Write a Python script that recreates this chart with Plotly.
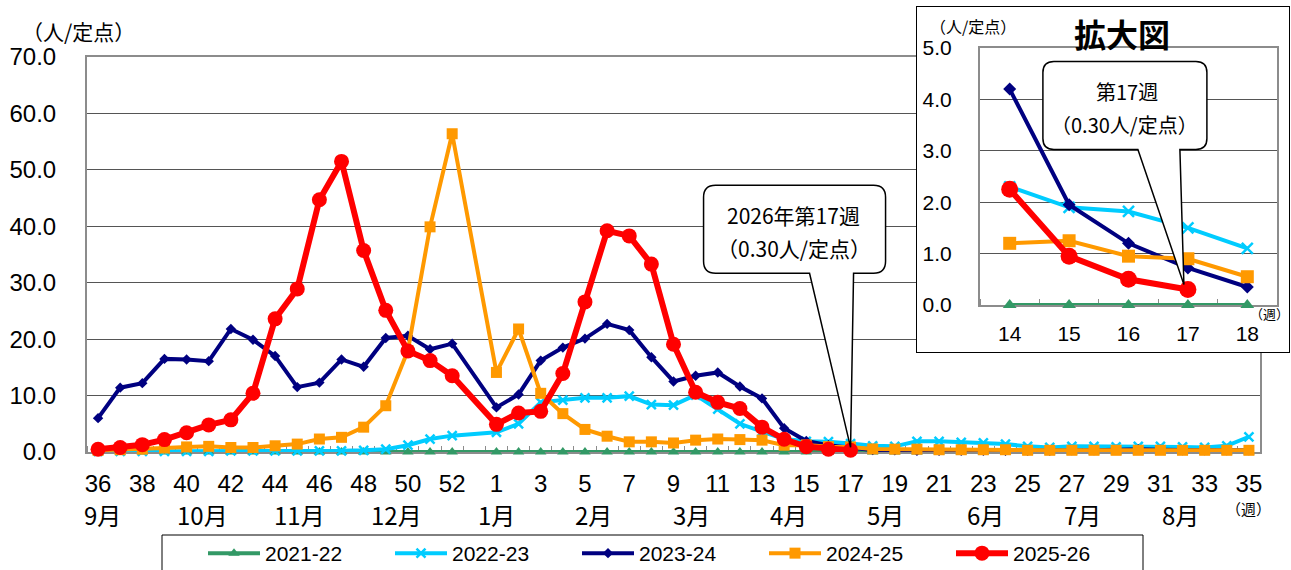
import plotly.graph_objects as go

W, H = 1291, 570

# ---------------- data ----------------
weeks = ["36", "37", "38", "39", "40", "41", "42", "43", "44", "45", "46", "47", "48", "49", "50", "51", "52", "53",
         "1", "2", "3", "4", "5", "6", "7", "8", "9", "10", "11", "12", "13", "14", "15", "16", "17", "18",
         "19", "20", "21", "22", "23", "24", "25", "26", "27", "28", "29", "30", "31", "32", "33", "34", "35"]
tick_weeks = ["36", "38", "40", "42", "44", "46", "48", "50", "52", "1", "3", "5", "7", "9", "11", "13", "15", "17",
              "19", "21", "23", "25", "27", "29", "31", "33", "35"]
months = ["9月", "10月", "11月", "12月", "1月", "2月", "3月", "4月", "5月", "6月", "7月", "8月"]

names = ["2021-22", "2022-23", "2023-24", "2024-25", "2025-26"]

s2122 = [0.0, 0.0, 0.0, 0.0, 0.0, 0.0, 0.0, 0.0, 0.0, 0.0, 0.0, 0.0, 0.0, 0.0, 0.0, 0.0, 0.0, None,
         0.0, 0.0, 0.0, 0.0, 0.0, 0.0, 0.0, 0.0, 0.0, 0.0, 0.0, 0.0, 0.0, 0.0, 0.0, 0.0, 0.0, 0.0,
         0.0, 0.0, 0.0, 0.0, 0.0, 0.0, 0.0, 0.0, 0.0, 0.0, 0.0, 0.0, 0.0, 0.0, 0.0, 0.0, 0.0]
s2223 = [0.1, 0.1, 0.1, 0.1, 0.1, 0.1, 0.2, 0.2, 0.2, 0.2, 0.2, 0.2, 0.3, 0.5, 1.2, 2.3, 2.9, None,
         3.5, 5.0, 8.8, 9.2, 9.6, 9.6, 9.9, 8.4, 8.3, 10.1, 7.6, 5.0, 3.6, 2.3, 1.9, 1.82, 1.5, 1.1,
         1.0, 1.9, 1.9, 1.7, 1.6, 1.4, 1.0, 0.8, 1.0, 1.0, 0.9, 1.0, 1.0, 0.9, 0.8, 1.1, 2.7]
s2324 = [6.0, 11.4, 12.2, 16.5, 16.4, 16.1, 21.8, 19.9, 17.0, 11.5, 12.3, 16.4, 15.1, 20.2, 20.6, 18.2, 19.2, None,
         7.9, 10.2, 16.2, 18.5, 20.1, 22.7, 21.6, 16.8, 12.5, 13.5, 14.1, 11.6, 9.5, 4.2, 1.95, 1.2, 0.72, 0.35,
         0.3, 0.2, 0.2, 0.2, 0.2, 0.2, 0.2, 0.2, 0.3, 0.3, 0.4, 0.5, 0.4, 0.3, 0.3, 0.3, 0.3]
s2425 = [0.3, 0.4, 0.5, 0.7, 0.9, 1.0, 0.8, 0.8, 1.1, 1.4, 2.3, 2.6, 4.4, 8.2, 18.0, 39.9, 56.4, None,
         14.1, 21.8, 10.4, 6.8, 4.0, 2.8, 1.8, 1.8, 1.6, 2.1, 2.3, 2.2, 2.1, 1.2, 1.25, 0.95, 0.9, 0.55,
         0.5, 0.5, 0.4, 0.4, 0.4, 0.4, 0.3, 0.3, 0.3, 0.3, 0.3, 0.3, 0.3, 0.3, 0.3, 0.3, 0.3]
s2526 = [0.5, 0.8, 1.3, 2.2, 3.4, 4.8, 5.7, 10.4, 23.6, 28.9, 44.7, 51.5, 35.7, 25.1, 17.9, 16.2, 13.5, None,
         4.9, 6.9, 7.2, 13.9, 26.6, 39.2, 38.3, 33.3, 19.1, 10.6, 8.8, 7.7, 4.4, 2.25, 0.95, 0.5, 0.30, None,
         None, None, None, None, None, None, None, None, None, None, None, None, None, None, None, None, None]

inset_weeks = ["14", "15", "16", "17", "18"]
latest_week = "17"

# ---------------- styles ----------------
series = [s2122, s2223, s2324, s2425, s2526]
colors = ["#339966", "#00ccff", "#000080", "#ff9900", "#ff0000"]
symbols = ["triangle-up", "x-thin", "diamond", "square", "circle"]
msizes = [10, 9, 8, 11, 15]
lwidths = [4, 4, 4, 4, 6]
inset_msizes = [12, 11, 10, 13, 17]

month_pos = [0.2, 4.7, 9.1, 13.5, 18.0, 22.4, 26.8, 31.2, 35.6, 40.1, 44.5, 48.9]

JP = "Noto Sans CJK JP"
AR = "Liberation Sans, Arial"

x_idx = list(range(len(weeks)))

fig = go.Figure()

def marker(i, size):
    m = dict(symbol=symbols[i], size=size, color=colors[i])
    if symbols[i] == "x-thin":
        m["line"] = dict(width=2.5, color=colors[i])
    return m

for i, (nm, vals) in enumerate(zip(names, series)):
    fig.add_trace(go.Scatter(
        x=x_idx, y=vals, name=nm, mode="lines+markers", connectgaps=True,
        line=dict(color=colors[i], width=lwidths[i]), marker=marker(i, msizes[i]),
        cliponaxis=False, xaxis="x", yaxis="y"))

# empty trace that creates the inset frame subplot
fig.add_trace(go.Scatter(x=[None], y=[None], xaxis="x2", yaxis="y2", showlegend=False, hoverinfo="skip"))

inset_idx = [weeks.index(w) for w in inset_weeks]
for i, vals in enumerate(series):
    ys = [vals[k] for k in inset_idx]
    fig.add_trace(go.Scatter(
        x=[int(w) for w in inset_weeks], y=ys, mode="lines+markers", showlegend=False,
        line=dict(color=colors[i], width=lwidths[i]), marker=marker(i, inset_msizes[i]),
        cliponaxis=False, xaxis="x3", yaxis="y3"))

# ---------------- layout ----------------
px = lambda v: v / W
py = lambda v: (H - v) / H

fig.update_layout(
    width=W, height=H, margin=dict(l=0, r=0, t=0, b=0, autoexpand=False),
    paper_bgcolor="white", plot_bgcolor="white",
    showlegend=True,
    legend=dict(orientation="h", x=px(203), y=py(533), xanchor="left", yanchor="top",
                font=dict(family=AR, size=21, color="black"), itemwidth=52,
                entrywidth=120, entrywidthmode="pixels", bgcolor="rgba(0,0,0,0)",
                borderwidth=0, itemclick=False, itemdoubleclick=False),
    xaxis=dict(domain=[px(87), px(1260)], range=[-0.5, len(weeks) - 0.5], anchor="y",
               tickmode="array", tickvals=[weeks.index(t) for t in tick_weeks], ticktext=tick_weeks,
               ticks="", ticklabelstandoff=9, showgrid=False, zeroline=False,
               showline=True, linecolor="#8c8c8c", linewidth=2, mirror=True, layer="below traces",
               tickfont=dict(family=AR, size=24, color="black"),
               minor=dict(tick0=-0.5, dtick=1, ticks="inside", ticklen=6, tickcolor="#8c8c8c",
                          tickwidth=1, showgrid=False)),
    yaxis=dict(domain=[(H - 452) / H, (H - 57) / H], range=[0, 70], dtick=10, tickformat=".1f",
               anchor="x", ticks="", ticklabelstandoff=24, showgrid=True, gridcolor="#555555",
               gridwidth=1, zeroline=False, showline=True, linecolor="#8c8c8c", linewidth=2,
               mirror=True, layer="below traces", tickfont=dict(family=AR, size=24, color="black")),
    xaxis2=dict(domain=[px(917), px(1289)], range=[0, 1], anchor="y2", showticklabels=False,
                ticks="", showgrid=False, zeroline=False, showline=True, linecolor="black",
                linewidth=1, mirror=True, fixedrange=True),
    yaxis2=dict(domain=[py(352), py(7)], range=[0, 1], anchor="x2", showticklabels=False,
                ticks="", showgrid=False, zeroline=False, showline=True, linecolor="black",
                linewidth=1, mirror=True, fixedrange=True),
    xaxis3=dict(domain=[px(980), px(1277)], range=[13.5, 18.5], anchor="y3",
                tickmode="array", tickvals=[int(w) for w in inset_weeks], ticktext=inset_weeks,
                ticks="", ticklabelstandoff=9, showgrid=False, zeroline=False,
                showline=True, linecolor="#8c8c8c", linewidth=2, mirror=True, layer="below traces",
                tickfont=dict(family=AR, size=21, color="black"),
                minor=dict(tick0=13.5, dtick=1, ticks="inside", ticklen=6, tickcolor="#8c8c8c",
                           tickwidth=1, showgrid=False)),
    yaxis3=dict(domain=[py(305), py(48)], range=[0, 5], dtick=1, tickformat=".1f", anchor="x3",
                ticks="", ticklabelstandoff=22, showgrid=True, gridcolor="#555555", gridwidth=1,
                zeroline=False, showline=True, linecolor="#8c8c8c", linewidth=2, mirror=True,
                layer="below traces", tickfont=dict(family=AR, size=21, color="black")),
)

# legend frame
fig.add_shape(type="rect", xref="paper", yref="paper", x0=px(162), x1=px(1143), y0=-0.05, y1=py(535),
              line=dict(color="black", width=1), fillcolor="white", layer="below")

# callouts
li = weeks.index(latest_week)
lv = s2526[li]
r = 12
main_path = (f"M {-147 + r},265 L {35 - r},265 Q 35,265 35,{265 - r} L 35,{177 + r} Q 35,177 {35 - r},177 "
             f"L 3,177 L 0,3 L -41,177 L {-147 + r},177 Q -147,177 -147,{177 + r} L -147,{265 - r} "
             f"Q -147,265 {-147 + r},265 Z")
fig.add_shape(type="path", xref="x", yref="y", xsizemode="pixel", ysizemode="pixel",
              xanchor=li, yanchor=lv, path=main_path, fillcolor="white",
              line=dict(color="black", width=1.5), layer="above")
r2 = 11
inset_path = (f"M {-145 + r2},228 L {19 - r2},228 Q 19,228 19,{228 - r2} L 19,{140 + r2} Q 19,140 {19 - r2},140 "
              f"L -8,140 L -4,5 L -50,140 L {-145 + r2},140 Q -145,140 -145,{140 + r2} L -145,{228 - r2} "
              f"Q -145,228 {-145 + r2},228 Z")
fig.add_shape(type="path", xref="x3", yref="y3", xsizemode="pixel", ysizemode="pixel",
              xanchor=int(latest_week), yanchor=lv, path=inset_path, fillcolor="white",
              line=dict(color="black", width=1.5), layer="above")

C = dict(xanchor="center", yanchor="middle", showarrow=False)
ann = []
ann.append(dict(x=li, y=lv, xref="x", yref="y", xshift=-57, yshift=235, **C,
                text=f"2026年第{latest_week}週", font=dict(family=JP, size=21, color="black")))
ann.append(dict(x=li, y=lv, xref="x", yref="y", xshift=-57, yshift=202, **C,
                text=f"（{lv:.2f}人/定点）", font=dict(family=JP, size=21, color="black")))
ann.append(dict(x=int(latest_week), y=lv, xref="x3", yref="y3", xshift=-61, yshift=198, **C,
                text=f"第{latest_week}週", font=dict(family=JP, size=20, color="black")))
ann.append(dict(x=int(latest_week), y=lv, xref="x3", yref="y3", xshift=-63, yshift=165, **C,
                text=f"（{lv:.2f}人/定点）", font=dict(family=JP, size=20, color="black")))

for m, pos in zip(months, month_pos):
    ann.append(dict(x=pos, y=py(514), xref="x", yref="paper", **C, text=m,
                    font=dict(family=JP, size=24, color="black")))

ann.append(dict(x=px(78), y=py(31), xref="paper", yref="paper", **C, text="（人/定点）",
                font=dict(family=JP, size=21, color="black")))
ann.append(dict(x=px(1248), y=py(508), xref="paper", yref="paper", **C, text="（週）",
                font=dict(family=JP, size=15, color="black")))
ann.append(dict(x=px(973), y=py(26), xref="paper", yref="paper", **C, text="（人/定点）",
                font=dict(family=JP, size=16, color="black")))
ann.append(dict(x=px(1122), y=py(33), xref="paper", yref="paper", **C, text="<b>拡大図</b>",
                font=dict(family=JP, size=32, color="black")))
ann.append(dict(x=px(1269), y=py(314), xref="paper", yref="paper", **C, text="（週）",
                font=dict(family=JP, size=13, color="black")))

fig.update_layout(annotations=ann)

fig.write_html("out.html", config={"displayModeBar": False},
               post_script="document.body.style.margin='0px';")
